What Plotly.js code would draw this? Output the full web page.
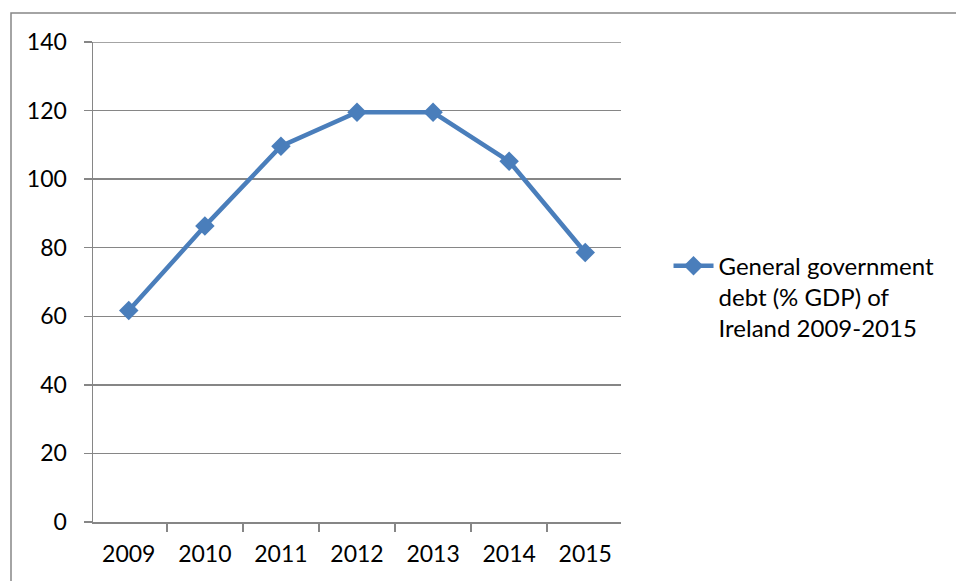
<!DOCTYPE html>
<html>
<head>
<meta charset="utf-8">
<script src="https://cdn.plot.ly/plotly-3.0.1.min.js"></script>
<style>
  html, body { margin: 0; padding: 0; background: #ffffff; }
  #chart { width: 956px; height: 581px; }
</style>
</head>
<body>
<div id="chart"></div>
<script>
// General government debt of Ireland, % of GDP
const years = ['2009', '2010', '2011', '2012', '2013', '2014', '2015'];
const debtPctGdp = [61.7, 86.3, 109.6, 119.5, 119.5, 105.2, 78.6];
const seriesName = 'General government<br>debt (% GDP) of<br>Ireland 2009-2015';
const yTicks = [0, 20, 40, 60, 80, 100, 120, 140];
const yMax = 140;

const blue = '#4A7EBB';
const gray = '#868686';
const font = 'Lato, "Open Sans", sans-serif';

const trace = {
  x: years,
  y: debtPctGdp,
  type: 'scatter',
  mode: 'lines+markers',
  name: seriesName,
  line: { color: blue, width: 4.5 },
  marker: { symbol: 'diamond', size: 15, color: blue }
};

const layout = {
  width: 956,
  height: 581,
  margin: { l: 93, r: 335, t: 42, b: 59 },
  paper_bgcolor: '#ffffff',
  plot_bgcolor: '#ffffff',
  font: { family: font, size: 23, color: '#000000' },
  showlegend: true,
  legend: {
    x: 1.09, xanchor: 'left',
    y: 0.58, yanchor: 'top',
    valign: 'top',
    font: { family: font, size: 24, color: '#000000' },
    itemwidth: 40,
    bgcolor: 'rgba(0,0,0,0)'
  },
  xaxis: {
    type: 'category',
    tickvals: years,
    ticktext: years,
    showgrid: false,
    showline: true,
    linecolor: gray,
    linewidth: 1.5,
    ticks: 'outside',
    tickson: 'boundaries',
    ticklen: 8,
    tickcolor: gray,
    tickwidth: 1.5,
    ticklabelstandoff: 11,
    zeroline: false,
    fixedrange: true
  },
  yaxis: {
    range: [0, yMax],
    tickvals: yTicks,
    showgrid: true,
    gridcolor: gray,
    gridwidth: 1.5,
    showline: true,
    linecolor: gray,
    linewidth: 1.5,
    ticks: 'outside',
    ticklen: 8,
    tickcolor: gray,
    tickwidth: 1.5,
    ticklabelstandoff: 12,
    zeroline: false,
    fixedrange: true
  },
  shapes: [
    // outer chart frame
    {
      type: 'rect',
      xref: 'paper', yref: 'paper',
      x0: (11 - 93) / 528, x1: (970 - 93) / 528,
      y0: (522 - 600) / 480, y1: (522 - 13) / 480,
      line: { color: gray, width: 1.5 },
      fillcolor: 'rgba(0,0,0,0)',
      layer: 'below'
    },
    // top gridline at the axis maximum
    {
      type: 'line',
      xref: 'paper', yref: 'y',
      x0: 0, x1: 1, y0: yMax, y1: yMax,
      line: { color: gray, width: 1.5 },
      layer: 'below'
    }
  ]
};

Plotly.newPlot('chart', [trace], layout, { displayModeBar: false, staticPlot: true });
</script>
</body>
</html>
